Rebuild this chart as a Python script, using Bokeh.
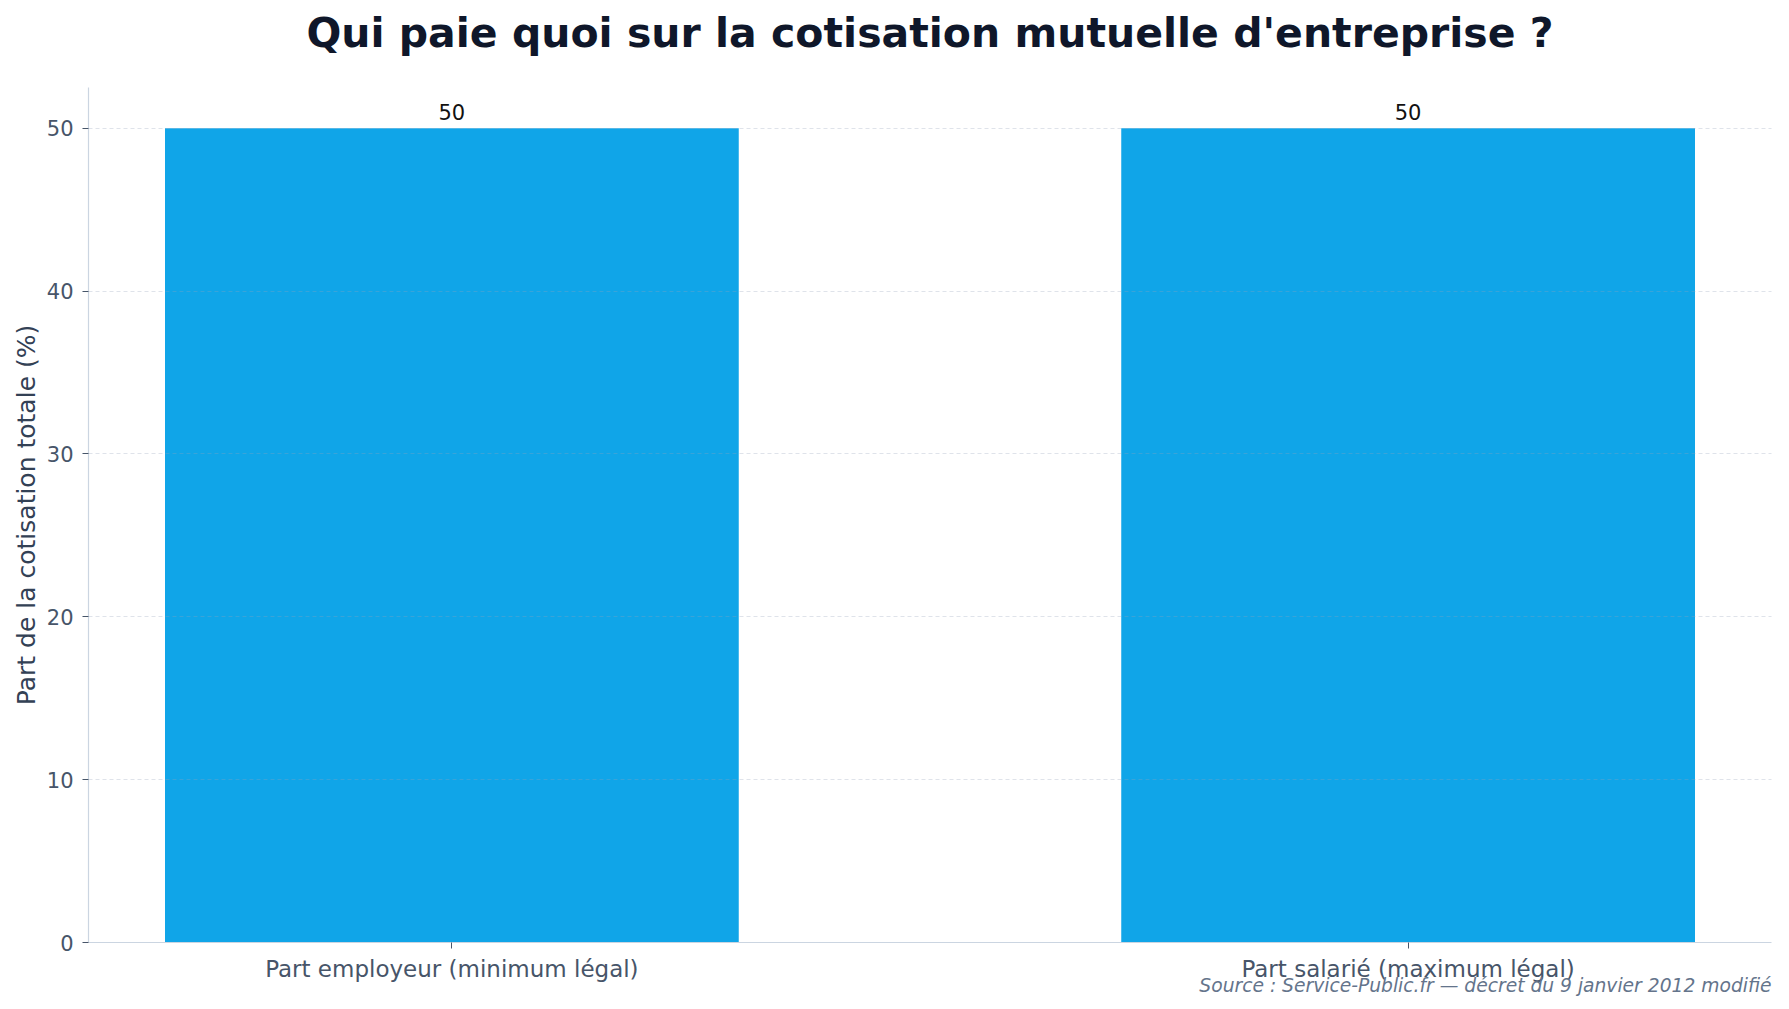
from bokeh.plotting import figure
from bokeh.models import ColumnDataSource, Range1d, FixedTicker, LabelSet, Title
from bokeh.core.properties import value
from bokeh.embed import file_html
from bokeh.resources import INLINE

# Données
categories = ["Part employeur (minimum légal)", "Part salarié (maximum légal)"]
shares = [50, 50]
y_ticks = [0, 10, 20, 30, 40, 50]
title_text = "Qui paie quoi sur la cotisation mutuelle d'entreprise ?"
y_label = "Part de la cotisation totale (%)"
source_text = "Source : Service-Public.fr \u2014 décret du 9 janvier 2012 modifié"

FONT = "DejaVu Sans"
pos = list(range(len(categories)))

src = ColumnDataSource(dict(x=pos, top=shares, lbl=[str(v) for v in shares]))

p = figure(width=1789, height=1009, output_backend="svg", toolbar_location=None,
           x_range=Range1d(-0.38, 1.38), y_range=Range1d(0, 52.5),
           min_border_left=88, min_border_right=18,
           min_border_top=86, min_border_bottom=67)
p.outline_line_color = None
p.background_fill_color = "white"
p.border_fill_color = "white"

# espace entre titre et graphique, puis titre
spacer = Title(text=" ", text_font_size="1px", standoff=18)
p.add_layout(spacer, "above")
t = Title(text=title_text, text_font=FONT, text_font_size="41px", text_font_style="bold",
          text_color="#0f172a", align="center", vertical_align="top", standoff=16)
p.add_layout(t, "above")

p.vbar(x="x", top="top", width=0.6, source=src, fill_color="#10a5e8", line_color=None)

labels = LabelSet(x="x", y="top", text="lbl", source=src, text_align="center",
                  text_baseline="bottom", y_offset=8, text_font_size="21px",
                  text_color="#111111", text_font=value(FONT))
p.add_layout(labels)

# axes
p.xaxis.ticker = FixedTicker(ticks=pos)
p.xaxis.major_label_overrides = {i: c for i, c in zip(pos, categories)}
p.yaxis.ticker = FixedTicker(ticks=y_ticks)
for ax in (p.xaxis[0], p.yaxis[0]):
    ax.axis_line_color = "#cbd5e1"
    ax.axis_line_width = 1.2
    ax.major_tick_line_color = "#475569"
    ax.major_tick_out = 6
    ax.major_tick_in = 0
    ax.minor_tick_line_color = None
    ax.major_label_text_font = FONT
    ax.major_label_text_color = "#475569"
p.xaxis.major_label_text_font_size = "23px"
p.yaxis.major_label_text_font_size = "21px"
p.xaxis.major_label_standoff = 7
p.yaxis.major_label_standoff = 9
p.yaxis.axis_label = y_label
p.yaxis.axis_label_text_font = FONT
p.yaxis.axis_label_text_font_size = "25px"
p.yaxis.axis_label_text_font_style = "normal"
p.yaxis.axis_label_text_color = "#334155"
p.yaxis.axis_label_standoff = 3

# grille
p.xgrid.grid_line_color = None
p.ygrid.grid_line_color = "#94a3b8"
p.ygrid.grid_line_dash = "4 3"
p.ygrid.grid_line_width = 1
p.ygrid.level = "guide"
p.ygrid.grid_line_alpha = 0.3

# source sous l'axe
note = Title(text=source_text, align="right", text_font=FONT, text_font_size="18.7px",
             text_font_style="italic", text_color="#64748b", vertical_align="top",
             standoff=-20)
p.add_layout(note, "below")

open("out.html", "w").write(file_html(p, INLINE))
